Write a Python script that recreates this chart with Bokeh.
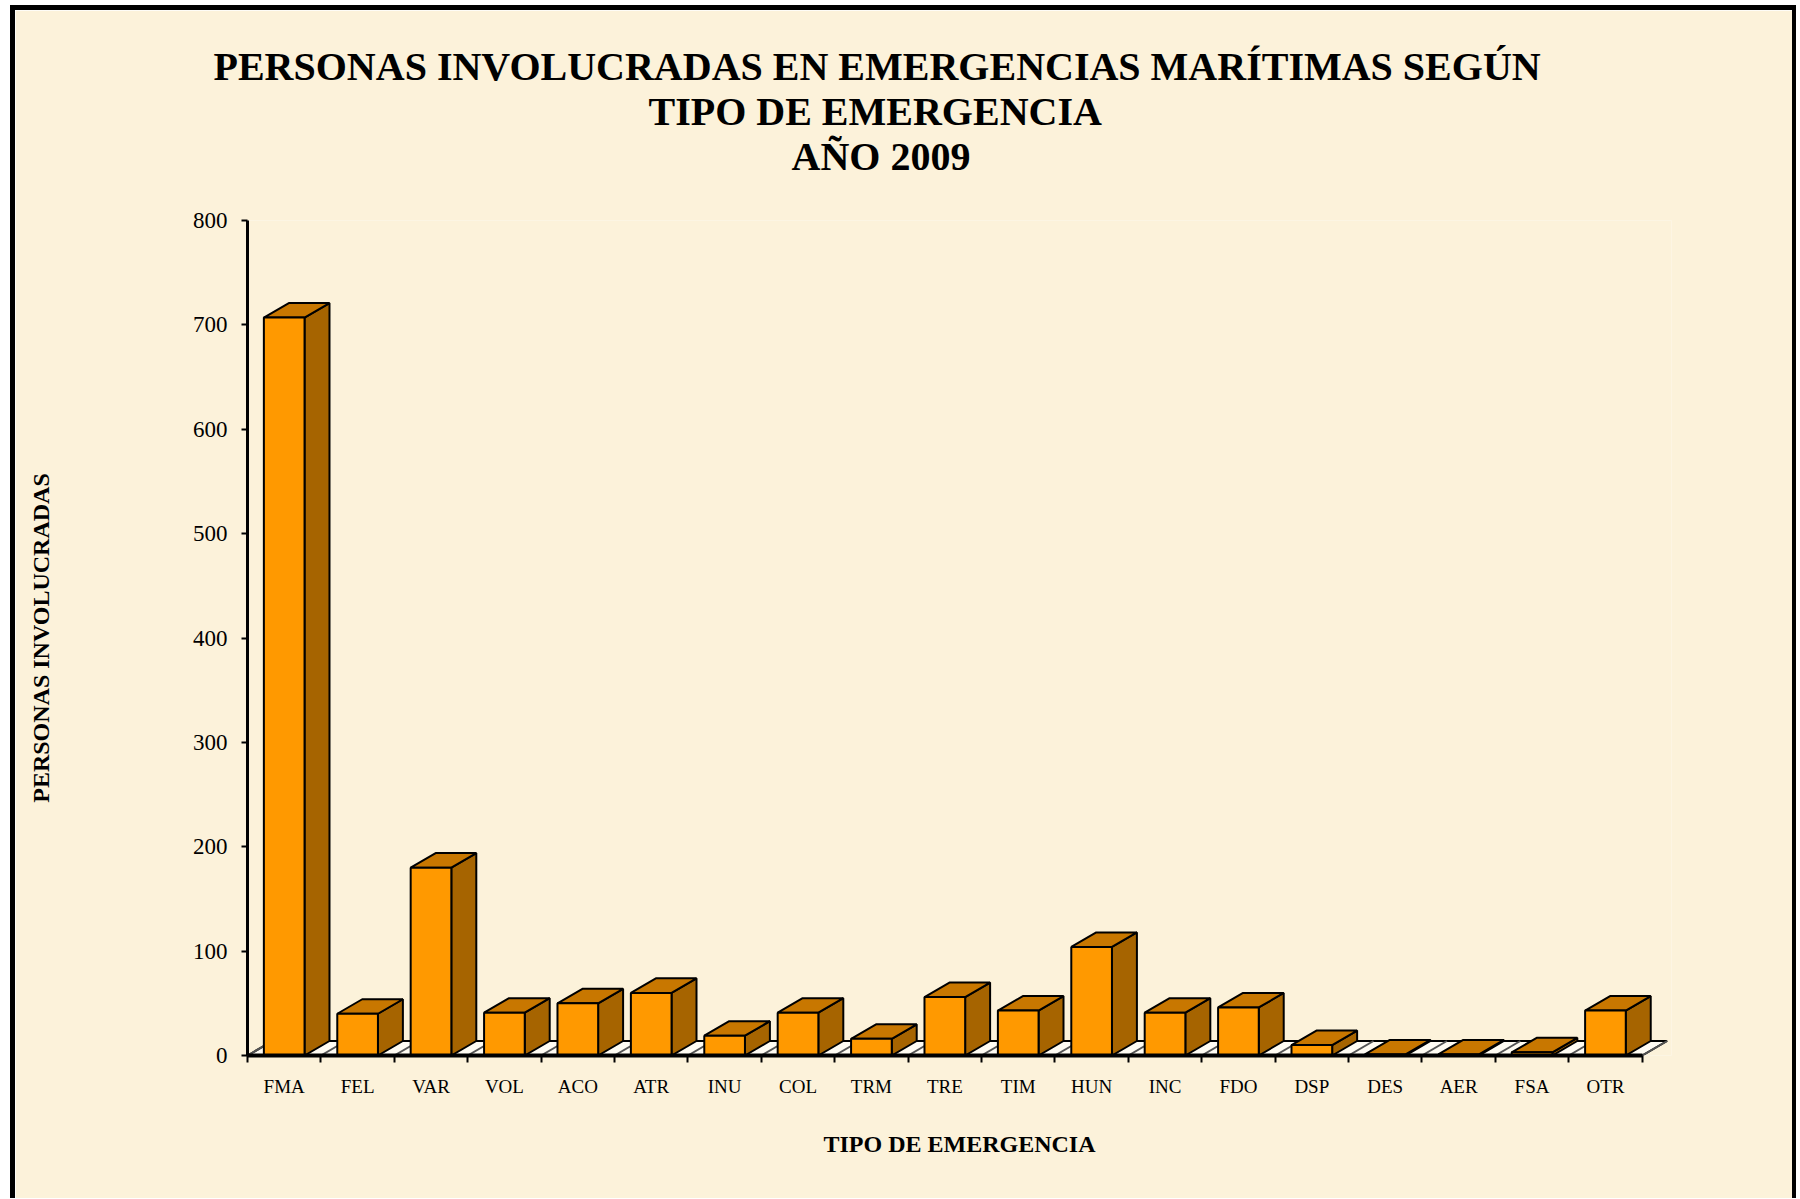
from bokeh.plotting import figure
from bokeh.models import Range1d, FixedTicker, Title
from bokeh.embed import file_html
from bokeh.resources import INLINE

# ---- data ----
categories = ["FMA", "FEL", "VAR", "VOL", "ACO", "ATR", "INU", "COL", "TRM", "TRE",
              "TIM", "HUN", "INC", "FDO", "DSP", "DES", "AER", "FSA", "OTR"]
personas = [707, 40, 180, 41, 50, 60, 19, 41, 16, 56, 43, 104, 41, 46, 10, 1, 1, 3, 43]
y_ticks = [0, 100, 200, 300, 400, 500, 600, 700, 800]
title_lines = ["PERSONAS INVOLUCRADAS EN EMERGENCIAS MARÍTIMAS SEGÚN",
               "TIPO DE EMERGENCIA",
               "AÑO 2009"]
x_title = "TIPO DE EMERGENCIA"
y_title = "PERSONAS INVOLUCRADAS"

# ---- style ----
FONT = "Liberation Serif"
BG = "#FCF2DA"
FRONT = "#FF9900"
SIDE = "#A66400"
TOP = "#C87700"
HW = 0.277     # half bar width (category units)
DX = 0.34      # 3D depth, x (category units)
DY = 13.9      # 3D depth, y (value units)

n = len(categories)
centers = [i + 0.5 for i in range(n)]

p = figure(width=1786, height=1193, output_backend="svg", toolbar_location=None,
           x_range=Range1d(0, n + 0.4), y_range=Range1d(0, 800),
           min_border_left=232, min_border_top=210, min_border_bottom=148,
           min_border_right=130,
           background_fill_color=BG, border_fill_color=BG,
           outline_line_color=None)
p.styles = {"margin-left": "10px", "margin-top": "5px",
            "border-left": "5px solid black", "border-top": "5px solid black",
            "border-right": "4px solid black"}

# title block: items in "above" are stacked outward from the plot frame.
p.title.text = title_lines[0]
p.title.align = "left"
p.title.offset = -34
p.title.text_font = FONT
p.title.text_font_style = "bold"
p.title.text_font_size = "40px"
p.title.text_color = "black"
p.title.standoff = -2
# gap between the last title line and the plot area
p.add_layout(Title(text=" ", text_font_size="1px", standoff=40), "above")
for line, off in [(title_lines[2], 544), (title_lines[1], 401)]:
    p.add_layout(Title(text=line, align="left", offset=off, text_font=FONT,
                       text_font_style="bold", text_font_size="40px",
                       text_color="black", standoff=-2), "above")

p.xgrid.visible = False
p.ygrid.visible = False

# floor
fx = [0, n, n + DX, DX]
fy = [0, 0, DY, DY]
p.patch(fx, fy, fill_color="#FFFCF3", line_color="black", line_width=2)
p.segment(x0=list(range(n + 1)), y0=[0] * (n + 1),
          x1=[i + DX for i in range(n + 1)], y1=[DY] * (n + 1),
          line_color="#555555", line_width=2)

# bars
lefts = [c - HW for c in centers]
rights = [c + HW for c in centers]
side_xs = [[r, r + DX, r + DX, r] for r in rights]
side_ys = [[0, DY, v + DY, v] for v in personas]
top_xs = [[l, r, r + DX, l + DX] for l, r in zip(lefts, rights)]
top_ys = [[v, v, v + DY, v + DY] for v in personas]
p.patches(side_xs, side_ys, fill_color=SIDE, line_color="black", line_width=2)
p.patches(top_xs, top_ys, fill_color=TOP, line_color="black", line_width=2)
p.quad(left=lefts, right=rights, bottom=0, top=personas,
       fill_color=FRONT, line_color="black", line_width=2)

# y axis
ya = p.yaxis[0]
ya.ticker = FixedTicker(ticks=y_ticks)
ya.axis_line_width = 3
ya.axis_line_color = "black"
ya.major_tick_out = 6
ya.major_tick_in = 0
ya.major_tick_line_width = 2
ya.minor_tick_line_color = None
ya.major_label_text_font = FONT
ya.major_label_text_font_size = "23px"
ya.major_label_text_color = "black"
ya.major_label_standoff = 14
ya.axis_label = y_title
ya.axis_label_text_font = FONT
ya.axis_label_text_font_style = "bold"
ya.axis_label_text_font_size = "24px"
ya.axis_label_text_color = "black"
ya.axis_label_standoff = 136

# x axis
xa = p.xaxis[0]
xa.ticker = FixedTicker(ticks=centers, minor_ticks=list(range(n + 1)))
xa.major_label_overrides = {c: name for c, name in zip(centers, categories)}
xa.bounds = (0, n)
xa.axis_line_width = 4
xa.axis_line_color = "black"
xa.major_tick_line_color = None
xa.major_tick_out = 0
xa.major_tick_in = 0
xa.minor_tick_out = 7
xa.minor_tick_in = 0
xa.minor_tick_line_width = 2
xa.minor_tick_line_color = "black"
xa.major_label_text_font = FONT
xa.major_label_text_font_size = "19px"
xa.major_label_text_color = "black"
xa.major_label_standoff = 13
xa.axis_label = x_title
xa.axis_label_text_font = FONT
xa.axis_label_text_font_style = "bold"
xa.axis_label_text_font_size = "24px"
xa.axis_label_text_color = "black"
xa.axis_label_standoff = 31

open("out.html", "w").write(file_html(p, INLINE))
